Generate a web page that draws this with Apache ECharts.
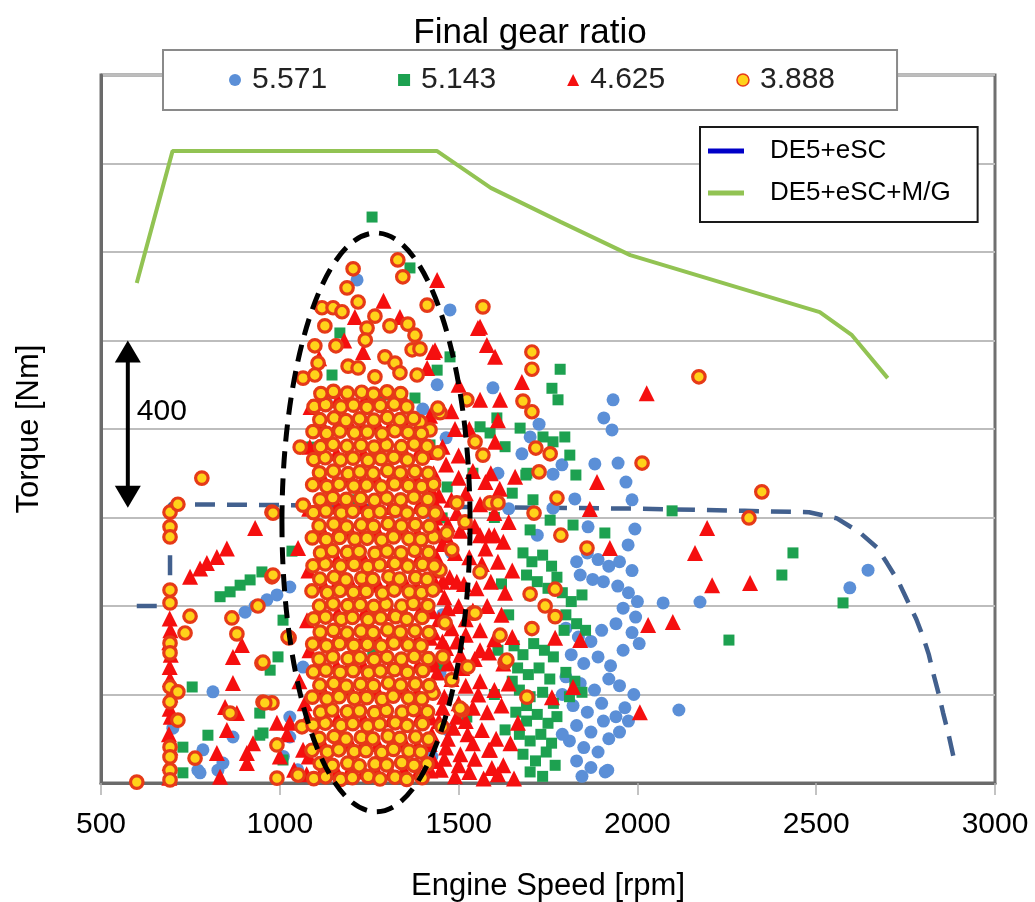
<!DOCTYPE html>
<html><head><meta charset="utf-8">
<script src="https://cdn.jsdelivr.net/npm/echarts@6/dist/echarts.min.js"></script>
<style>html,body{margin:0;padding:0;background:#fff}#c{width:1035px;height:902px}</style>
</head><body><div id="c"></div>
<script>
// ---------- DATA ----------
const seriesNames = ['5.571', '5.143', '4.625', '3.888'];
const lineNames = ['DE5+eSC', 'DE5+eSC+M/G'];

// Final gear ratio 5.571 (blue circles) [rpm, Nm]
const s5571 = [
 [701,124],[771,29],[777,23],[785,75],[813,206],[827,29],[841,45],[869,104],[903,386],[931,400],[964,414],[992,425],[1028,443],
 [1028,149],[1028,104],[1065,262],[1010,60],[1050,30],[1216,1137],[1476,1069],[1380,700],[1430,600],[1445,480],[1455,380],
 [1400,845],[1130,860],[1440,900],[1465,780],[1448,250],[1470,120],[1425,60],[1480,520],
 [1596,893],[1932,866],[1906,825],[1929,798],[1725,811],[1700,782],[1677,744],[1789,719],[1764,698],[1881,721],[1946,723],
 [1968,680],[1985,640],[1825,642],[1764,621],[1862,579],[1993,574],[1974,538],[1720,560],[1640,620],[1610,700],
 [2072,407],[2175,409],[2116,165],[2594,441],[2645,481],
 [1830,500],[1860,520],[1890,505],[1920,490],[1950,500],[1985,480],[1840,470],[1875,460],[1905,455],[1945,445],[1975,430],
 [2000,410],[1960,395],[1995,375],[1940,360],[1985,340],[2005,315],[1960,300],[1800,350],[1835,330],[1870,320],[1900,345],
 [1815,290],[1850,270],[1890,285],[1925,265],[1800,240],[1840,225],[1880,210],[1920,235],[1950,220],[1990,200],[1965,170],
 [1900,180],[1860,160],[1820,175],[1790,200],[1830,130],[1870,115],[1905,140],[1940,150],[1975,140],[1810,95],[1850,80],
 [1890,70],[1920,100],[1830,50],[1870,35],[1910,25],[1845,15],[1790,110],[1950,115],[1917,29]
];

// Final gear ratio 5.143 (green squares)
const s5143 = [
 [1258,1279],[1784,935],[1761,892],[1778,866],[1797,782],[1764,771],[1736,782],[1672,802],[1811,741],[1828,696],[1688,696],
 [2097,615],[1708,640],[1756,594],[1820,583],[1700,572],[1909,565],[1588,791],[1630,760],[1691,700],[1560,805],[1607,825],
 [1650,655],[1600,600],[1540,700],[2435,520],[2404,470],[2256,323],[2575,407],
 [1680,520],[1705,500],[1735,515],[1760,490],[1690,470],[1720,455],[1750,440],[1775,465],[1700,425],
 [1790,430],[1815,410],[1845,425],[1800,380],[1830,360],[1855,345],[1795,345],
 [1655,310],[1680,290],[1710,315],[1740,300],[1765,285],[1665,260],[1695,245],[1725,260],[1755,235],[1670,210],[1700,195],
 [1735,205],[1765,180],[1690,175],[1650,230],[1800,250],[1825,230],[1845,205],[1810,195],
 [1660,160],[1690,140],[1720,155],[1750,135],[1775,150],[1670,110],[1700,95],[1730,110],[1760,90],[1680,65],[1715,50],
 [1745,70],[1700,25],[1735,15],[1770,40],[1620,450],[1640,380],[1610,300],[1630,120],[1600,200],
 [833,421],[861,432],[889,447],[917,459],[950,477],[1034,524],[755,217],[973,255],[995,285],[944,158],[944,108],[799,108],
 [729,81],[729,23],[1009,368],[1009,52],[1070,759],
 [1364,1164],[1168,1017],[1146,922],[1440,933],[1476,963],[1289,877],[1378,870],[1420,764],[1468,669],[1454,599],[1090,759],
 [1454,267],[1523,149],[953,113],[1260,300],[1200,640]
];

// Final gear ratio 4.625 (red triangles)
const s4625 = [
 [2026,881],[1887,680],[1867,619],[1923,531],[2195,576],[2161,520],[2209,447],[2315,452],[2030,357],[2099,364],[2007,160],
 [1820,217],[1761,194],[1840,323],[1770,328],[1666,136],[1593,34],[1588,75],
 [1440,1137],[1560,1031],[1579,990],[1602,963],[1428,974],[1210,1053],[1233,974],[1412,938],[1554,1028],[1677,906],[1610,820],
 [1658,692],[1616,866],[1560,866],[1602,771],[1336,1053],[1434,978],[1180,1000],[1290,1090],[1110,960],[1500,900],[1530,800],[1480,840],
 [749,466],[777,485],[796,497],[824,511],[852,530],[931,576],[869,285],[869,226],[894,312],[847,172],[880,158],[852,120],
 [824,68],[833,14],[908,68],[908,45],[925,90],[992,136],[1028,136],[1076,368],[1051,531],
 [692,372],[694,345],[691,318],[695,290],[692,262],[693,235],[694,200],[692,168],[695,150],[690,110],[694,80],[692,45],[691,12],
 [1000,60],[1040,30],[1065,75],[1075,20],[1020,110],[1070,180],[1055,230],
 [1430,700],[1465,720],[1500,690],[1540,705],[1575,680],[1615,665],[1445,650],[1480,640],[1520,655],[1560,630],[1600,610],[1640,590],
 [1435,600],[1470,585],[1505,570],[1545,580],[1585,560],[1625,545],[1455,540],[1490,520],[1530,510],[1565,495],[1610,500],[1650,480],
 [1440,480],[1475,465],[1515,450],[1550,440],[1590,455],[1630,430],[1460,420],[1500,400],[1540,390],[1580,400],[1620,380],
 [1445,370],[1480,350],[1520,335],[1560,345],[1600,325],[1650,330],[1465,305],[1505,290],[1545,280],[1585,295],[1625,270],
 [1440,250],[1480,235],[1520,220],[1560,230],[1600,210],[1640,225],[1460,195],[1500,180],[1540,170],[1580,160],[1620,175],
 [1445,140],[1485,125],[1525,110],[1565,120],[1605,100],[1645,90],[1465,80],[1505,65],[1545,55],[1585,75],[1625,40],
 [1450,30],[1490,15],[1530,25],[1570,10],[1610,20],[1655,10],
 [1425,660],[1450,610],[1465,560],[1430,520],[1455,455],[1470,395],[1430,340],[1455,320],[1425,280],[1470,270],[1430,220],
 [1455,170],[1425,110],[1470,100],[1430,50],[1460,55],[1495,610],[1520,590],[1495,455],[1520,370],[1495,320],[1510,260],
 [1495,150],[1520,140],[1500,40],[1540,90],[1555,200],[1560,300],[1575,530],[1560,560],[1600,560],[1590,700],[1500,740],
 [1455,760],[1490,800],[1420,830],
 [1082,620],[1080,480],[1083,300],[1079,150],[1081,60],[1084,760],[1086,850],
 [1118,27],[1160,25],[1195,29],[1236,26],[1270,28],[1312,24],[1347,30],[1388,26],[1421,28],
 [1121,88],[1157,85],[1198,89],[1232,86],[1274,88],[1308,84],[1350,90],[1385,86],[1419,88],
 [1117,147],[1161,145],[1194,149],[1235,146],[1271,148],[1311,144],[1346,150],[1389,146],[1422,148],
 [1122,208],[1156,205],[1199,209],[1233,206],[1273,208],[1309,204],[1351,210],[1384,206],[1418,208],
 [1119,267],[1159,265],[1196,269],[1234,266],[1272,268],[1310,264],[1348,270],[1387,266],[1423,268],
 [1120,328],[1158,325],[1197,329],[1231,326],[1275,328],[1307,324],[1349,330],[1386,326],[1420,328],
 [1116,387],[1162,385],[1193,389],[1237,386],[1269,388],[1313,384],[1345,390],[1390,386],[1424,388],
 [1123,448],[1155,445],[1200,449],[1230,446],[1276,448],[1306,444],[1352,450],[1383,446],[1437,448],
 [1118,507],[1160,505],[1195,509],[1236,506],[1270,508],[1312,504],[1347,510],[1388,506],[1440,508],
 [1121,568],[1157,565],[1198,569],[1232,566],[1274,568],[1308,564],[1350,570],[1385,566],[1441,568],
 [1117,627],[1161,625],[1194,629],[1235,626],[1271,628],[1311,624],[1346,630],[1389,626],[1436,628],
 [1122,688],[1156,685],[1199,689],[1233,686],[1273,688],[1309,684],[1351,690],[1384,686],[1425,688],
 [1119,747],[1159,745],[1196,749],[1234,746],[1272,748],[1310,744],[1348,750],[1387,746],[1420,748],
 [1120,808],[1158,805],[1197,809],[1231,806],[1275,808],[1307,804],[1349,810],[1386,806],
 [1116,867],[1162,865],[1193,869],[1237,866],[1269,868],[1313,864],[1345,870]
];

// Final gear ratio 3.888 (yellow circles)
const s3888 = [
 [600,2],[693,612],[693,579],[693,556],[693,436],[693,407],[693,316],[693,294],[693,217],[715,206],[693,183],[715,142],[693,81],
 [693,59],[693,29],[693,7],[715,630],[782,689],[978,612],[1065,915],[1057,759],[749,377],[735,339],[866,373],[880,337],
 [950,271],[978,466],[939,400],[1026,328],[953,183],[978,181],[861,158],[763,56],[992,86],[1062,127],[981,610],[1065,628],
 [981,470],[1023,330],[953,273],[958,181],[992,11],[1051,18],
 [1330,1182],[1344,1144],[1205,1162],[1188,1119],[1219,1087],[1118,1074],[1149,1074],[1174,1065],[1266,1055],[1126,1033],
 [1244,1028],[1308,1033],[1358,1037],[1378,1012],[1412,1080],[1568,1076],[1098,988],[1157,988],[1239,1001],[1370,979],
 [1392,981],[1294,963],[1322,949],[1191,942],[1219,938],[1107,949],[1098,922],[1266,918],[1336,927],[1384,922],
 [1448,837],[1442,746],[1392,816],[1420,798],[1495,633],[1467,565],[1448,481],[1481,527],[1523,866],[1546,771],[1518,590],
 [1462,362],[1456,285],[1481,233],[1510,165],[1540,384],[1526,262],[1454,127],[1428,203],[1568,741],[1588,633],[1610,633],
 [1560,477],[1546,384],[1630,273],[1504,169],[1442,847],
 [1705,974],[1705,935],[1680,863],[1705,839],[1716,757],[1756,744],[1725,703],[1775,644],[1711,610],[1786,560],[1859,531],
 [1700,427],[1742,400],[1770,376],[1705,349],[1770,438],[1691,194],[1616,334],[1635,278],[2013,723],[2172,918],[2348,658],[2312,599],
 [1095,10],[1128,14],[1170,8],[1203,12],[1247,15],[1280,9],[1322,13],[1355,8],[1398,12],
 [1113,44],[1147,40],[1190,45],[1222,39],[1266,43],[1299,41],[1341,46],[1375,40],[1412,43],
 [1090,74],[1133,70],[1165,75],[1208,71],[1241,73],[1285,69],[1318,76],[1361,72],[1394,70],
 [1110,101],[1152,105],[1185,99],[1228,103],[1260,100],[1303,106],[1336,101],[1380,104],[1416,99],
 [1093,131],[1127,135],[1171,130],[1204,134],[1246,129],[1279,133],[1323,136],[1356,130],[1399,134],
 [1114,160],[1146,165],[1189,161],[1223,163],[1265,159],[1298,164],[1342,160],[1374,166],[1413,161],
 [1091,194],[1132,190],[1166,195],[1209,191],[1243,193],[1286,189],[1317,196],[1360,192],[1397,190],
 [1112,221],[1151,225],[1186,219],[1226,223],[1262,220],[1304,226],[1338,221],[1379,224],[1418,220],
 [1094,251],[1129,255],[1169,250],[1205,254],[1248,249],[1281,253],[1321,256],[1357,250],[1400,254],
 [1110,280],[1148,285],[1191,281],[1224,283],[1264,279],[1300,284],[1340,280],[1376,286],[1415,281],
 [1092,314],[1131,310],[1167,315],[1207,311],[1245,313],[1284,309],[1319,316],[1359,312],[1395,310],
 [1113,341],[1150,345],[1188,339],[1227,343],[1261,340],[1302,346],[1337,341],[1378,344],[1417,340],
 [1095,371],[1128,375],[1172,370],[1203,374],[1247,369],[1282,373],[1324,376],[1355,370],[1398,374],
 [1111,400],[1149,405],[1190,401],[1225,403],[1263,399],[1297,404],[1341,400],[1373,406],[1414,401],
 [1090,434],[1133,430],[1168,435],[1206,431],[1242,433],[1287,429],[1320,436],[1362,432],[1396,430],[1428,436],
 [1112,461],[1152,465],[1185,459],[1229,463],[1260,460],[1305,466],[1335,461],[1380,464],[1412,460],
 [1093,491],[1127,495],[1170,490],[1208,494],[1246,489],[1279,493],[1322,496],[1358,490],[1399,494],[1432,490],
 [1114,520],[1147,525],[1189,521],[1222,523],[1266,519],[1300,524],[1339,520],[1377,526],[1416,521],
 [1091,554],[1130,550],[1167,555],[1210,551],[1244,553],[1285,549],[1318,556],[1361,552],[1395,550],[1430,556],
 [1110,581],[1151,585],[1187,579],[1228,583],[1262,580],[1303,586],[1340,581],[1379,584],[1418,580],
 [1094,611],[1129,615],[1172,610],[1204,614],[1248,609],[1280,613],[1323,616],[1356,610],[1400,614],[1435,610],
 [1113,640],[1148,645],[1186,641],[1226,643],[1265,639],[1299,644],[1338,640],[1375,646],[1414,641],
 [1092,674],[1132,670],[1166,675],[1207,671],[1243,673],[1284,669],[1321,676],[1360,672],[1397,670],[1430,675],
 [1111,701],[1150,705],[1191,699],[1224,703],[1261,700],[1302,706],[1337,701],[1378,704],[1415,700],
 [1095,731],[1127,735],[1170,730],[1205,734],[1247,729],[1283,733],[1319,736],[1357,730],[1399,734],
 [1114,760],[1149,765],[1188,761],[1227,763],[1264,759],[1298,764],[1340,760],[1376,766],[1412,761],
 [1093,794],[1131,790],[1168,795],[1209,791],[1245,793],[1286,789],[1322,796],[1359,792],[1396,790],
 [1112,821],[1152,825],[1185,819],[1223,823],[1263,820],[1301,826],[1336,821],[1374,824],
 [1096,851],[1128,855],[1171,850],[1206,854],[1244,849],[1281,853],[1320,856],[1355,850],
 [1115,880],[1150,885],[1189,881],[1229,883],[1262,879],[1300,884],[1338,880]
];

// Torque limit lines [rpm, Nm]
const lineDE5eSC = [[600,400],[693,400],[693,630],[1000,628],[1500,624],[2000,620],[2300,615],[2480,612],[2558,598],
 [2622,566],[2670,532],[2698,497],[2730,455],[2754,414],[2780,370],[2799,330],[2815,290],[2827,249],[2843,200],[2855,158],[2870,110],[2885,55]];
const lineDE5eSCMG = [[600,1130],[700,1428],[1440,1428],[1590,1345],[1785,1268],[1980,1193],[2510,1064],[2600,1012],[2700,915]];

// Annotations (data units)
const ellipseCenter = [1269, 589];
const ellipseRadii = [263, 654];
const arrowRpm = 575, arrowTopNm = 1000, arrowBottomNm = 622, arrowLabelNm = 838;
const arrowLabel = '400';
const titleText = 'Final gear ratio';

// ---------- CHART ----------
const FONT = '"Liberation Sans", Arial, sans-serif';
const chart = echarts.init(document.getElementById('c'), null, {renderer: 'canvas'});
const option = {
  animation: false,
  textStyle: {fontFamily: FONT},
  grid: {left: 101, right: 40, top: 75, bottom: 119, outerBoundsMode: 'none', containLabel: false,
         show: true, borderColor: '#707070', borderWidth: 3},
  xAxis: {
    type: 'value', min: 500, max: 3000, interval: 500,
    axisLine: {show: true, lineStyle: {color: '#6a6a6a', width: 3}},
    axisTick: {show: true, length: 12, lineStyle: {color: '#b0b0b0', width: 1.5}},
    axisLabel: {fontSize: 30, color: '#000', margin: 27, fontFamily: FONT, formatter: function (v) { return String(v); }},
    splitLine: {show: false},
    name: 'Engine Speed [rpm]', nameLocation: 'middle', nameGap: 88,
    nameTextStyle: {fontSize: 31, color: '#000', fontFamily: FONT}
  },
  yAxis: {
    type: 'value', min: 0, max: 1600, interval: 200,
    axisLine: {show: true, lineStyle: {color: '#6a6a6a', width: 3}},
    axisTick: {show: false}, axisLabel: {show: false},
    splitLine: {show: true, lineStyle: {color: '#bdbdbd', width: 2}},
    name: 'Torque [Nm]', nameLocation: 'middle', nameGap: 56,
    nameTextStyle: {fontSize: 31, color: '#000', fontFamily: FONT}
  },
  legend: [
    {
      data: [{name: seriesNames[0]}, {name: seriesNames[1]}, {name: seriesNames[2]}, {name: seriesNames[3], itemStyle: {borderWidth: 1.5}}],
      left: 163, top: 50, orient: 'horizontal', itemWidth: 12, itemHeight: 12, itemGap: 71,
      textStyle: {fontSize: 30, color: '#222', fontFamily: FONT, padding: [0, 0, 0, 6]},
      backgroundColor: '#fff', borderColor: '#8a8a8a', borderWidth: 2,
      padding: [15, 62, 15, 66]
    },
    {
      data: [{name: lineNames[0], itemStyle: {color: '#0000C8'}}, {name: lineNames[1]}],
      left: 700, top: 127, orient: 'vertical', icon: 'rect', itemWidth: 36, itemHeight: 5, itemGap: 16,
      itemStyle: {borderWidth: 0},
      textStyle: {fontSize: 26, color: '#000', fontFamily: FONT, padding: [0, 0, 0, 21]},
      backgroundColor: '#fff', borderColor: '#1a1a1a', borderWidth: 2,
      padding: [11, 27, 16, 8]
    }
  ],
  series: [
    {name: lineNames[0], type: 'line', data: lineDE5eSC, symbol: 'none', z: 1, silent: true,
     itemStyle: {color: '#42608E'}, lineStyle: {color: '#42608E', width: 4.5, type: [20, 12]}},
    {name: lineNames[1], type: 'line', data: lineDE5eSCMG, symbol: 'none', z: 1, silent: true,
     itemStyle: {color: '#92C353'}, lineStyle: {color: '#92C353', width: 4}},
    {name: seriesNames[0], type: 'scatter', data: s5571, symbol: 'circle', symbolSize: 13, clip: false, silent: true, z: 2,
     itemStyle: {color: '#5B8FD7', opacity: 1}},
    {name: seriesNames[1], type: 'scatter', data: s5143, symbol: 'rect', symbolSize: 11, clip: false, silent: true, z: 2,
     itemStyle: {color: '#1DA150', opacity: 1}},
    {name: seriesNames[2], type: 'scatter', data: s4625, symbol: 'triangle', symbolSize: 16, clip: false, silent: true, z: 2,
     itemStyle: {color: '#F50F0F', opacity: 1}},
    {name: seriesNames[3], type: 'scatter', data: s3888, symbol: 'circle', symbolSize: 12.5, clip: false, silent: true, z: 2,
     itemStyle: {color: '#FFD21A', borderColor: '#E63A18', borderWidth: 3.2, opacity: 1}}
  ]
};
chart.setOption(option);

function px(p) { return chart.convertToPixel({gridIndex: 0}, p); }
const c0 = px(ellipseCenter);
const c1 = px([ellipseCenter[0] + ellipseRadii[0], ellipseCenter[1] + ellipseRadii[1]]);
const rx = c1[0] - c0[0], ry = c0[1] - c1[1];
const aTop = px([arrowRpm, arrowTopNm]);
const aBot = px([arrowRpm, arrowBottomNm]);
const aLab = px([arrowRpm, arrowLabelNm]);
const head = 22, hw = 13;

chart.setOption({
  graphic: [
    {type: 'text', x: 530, y: 33, z: 50,
     style: {text: titleText, fontSize: 35, fontFamily: FONT, fill: '#000', align: 'center', verticalAlign: 'middle'}},
    {type: 'ellipse', z: 60, shape: {cx: c0[0], cy: c0[1], rx: rx, ry: ry},
     style: {fill: 'none', stroke: '#000', lineWidth: 5, lineDash: [17, 10]}},
    {type: 'line', z: 60, shape: {x1: aTop[0], y1: aTop[1] + head - 2, x2: aBot[0], y2: aBot[1] - head + 2},
     style: {stroke: '#000', lineWidth: 4}},
    {type: 'polygon', z: 60, shape: {points: [[aTop[0], aTop[1]], [aTop[0] - hw, aTop[1] + head], [aTop[0] + hw, aTop[1] + head]]},
     style: {fill: '#000'}},
    {type: 'polygon', z: 60, shape: {points: [[aBot[0], aBot[1]], [aBot[0] - hw, aBot[1] - head], [aBot[0] + hw, aBot[1] - head]]},
     style: {fill: '#000'}},
    {type: 'text', x: aLab[0] + 9, y: aLab[1], z: 60,
     style: {text: arrowLabel, fontSize: 30, fontFamily: FONT, fill: '#000', align: 'left', verticalAlign: 'middle'}}
  ]
});
</script></body></html>
